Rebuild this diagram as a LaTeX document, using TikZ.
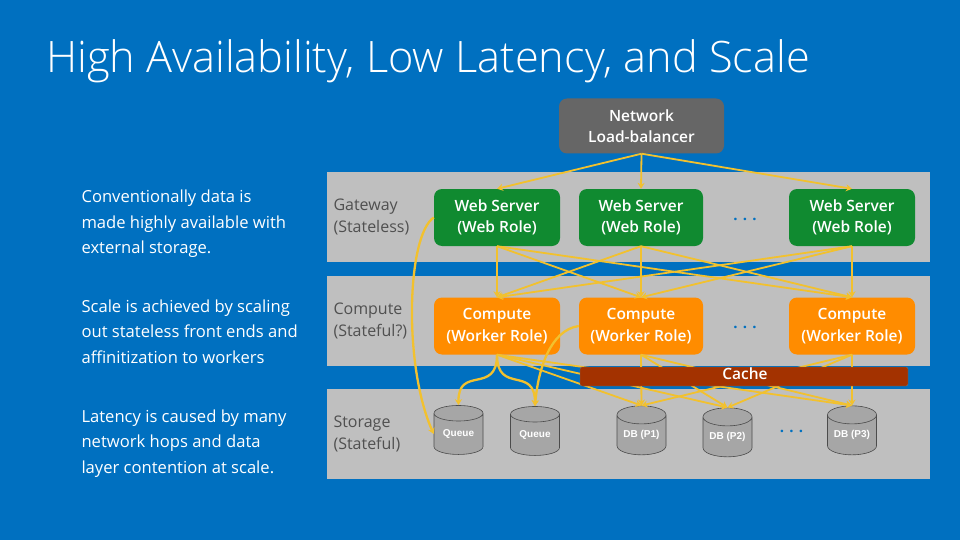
\documentclass[tikz,border=0pt]{standalone}
\usepackage{fontspec}
\setmainfont{Open Sans}
\newfontfamily\titlefont{Open Sans Light}
\newfontfamily\boxfont{Open Sans Semibold}
\newfontfamily\cylfont{Liberation Sans}
\usetikzlibrary{arrows.meta,shapes.geometric}
\definecolor{slideblue}{HTML}{0070C0}
\definecolor{bandgrey}{HTML}{BFBFBF}
\definecolor{netgrey}{HTML}{666666}
\definecolor{webgreen}{HTML}{108A30}
\definecolor{workorange}{HTML}{FF8C00}
\definecolor{cachered}{HTML}{A33200}
\definecolor{linkyellow}{HTML}{F2C12E}
\definecolor{labelgrey}{HTML}{505050}
\tikzstyle{band} = [fill=bandgrey,draw=none,minimum width=603pt,minimum height=90pt,inner sep=0pt,anchor=north west]
\tikzstyle{rolebox} = [rounded corners=8pt,minimum width=126pt,minimum height=57pt,inner sep=0pt,align=center,text=white,
    font=\boxfont\fontsize{15.5}{21.5}\selectfont]
\tikzstyle{webbox} = [rolebox,fill=webgreen]
\tikzstyle{workbox} = [rolebox,fill=workorange]
\tikzstyle{disk} = [cylinder,shape border rotate=90,shape aspect=0.5,draw=black!70,line width=0.6pt,fill=black!35,minimum width=49pt,
    minimum height=49pt,inner sep=0pt,text=white,font=\cylfont\bfseries\fontsize{10}{12}\selectfont]
\tikzstyle{note} = [anchor=west,align=left,text=white,font=\fontsize{16.6}{25.5}\selectfont]
\tikzstyle{tier} = [anchor=west,align=left,text=labelgrey,font=\fontsize{16}{21.5}\selectfont]
\tikzstyle{more} = [text=slideblue,font=\bfseries\fontsize{15}{18}\selectfont]
\tikzstyle{link} = [draw=linkyellow,line width=1.8pt,-{Stealth[length=6pt,width=7pt]}]
\tikzstyle{curvelink} = [link,line width=2.3pt]
\begin{document}
\begin{tikzpicture}[x=1pt,y=-1pt]
	\useasboundingbox[fill=slideblue] (0,0) rectangle (960,540);
	
	\node(title) at (46,61) [anchor=west,text=white,inner sep=0pt,font=\titlefont\fontsize{43.3}{48}\selectfont] {High Availability, Low Latency, and Scale};
	
	\node(band1) at (327,172) [band] {};
	\node(band2) at (327,276) [band] {};
	\node(band3) at (327,389) [band] {};
	
	\node(note1) at (78,224) [note] {Conventionally data is\\made highly available with\\external storage.};
	\node(note2) at (78,331.5) [note] {Scale is achieved by scaling\\out stateless front ends and\\affinitization to workers};
	\node(note3) at (78,443.5) [note] {Latency is caused by many\\network hops and data\\layer contention at scale.};
	
	\node(tier1) at (330,217) [tier] {Gateway\\(Stateless)};
	\node(tier2) at (330,321) [tier] {Compute\\(Stateful?)};
	\node(tier3) at (330,434) [tier] {Storage\\(Stateful)};
	
	\node(net) at (641.5,126) [rolebox,fill=netgrey,minimum width=165pt,minimum height=55pt] {Network\\Load-balancer};
	
	\node(web1) at (497,217.5) [webbox] {Web Server\\(Web Role)};
	\node(web2) at (641,217.5) [webbox,minimum width=124pt] {Web Server\\(Web Role)};
	\node(web3) at (852,217.5) [webbox] {Web Server\\(Web Role)};
	
	\node(comp1) at (497,326) [workbox] {Compute\\(Worker Role)};
	\node(comp2) at (641,326) [workbox,minimum width=124pt] {Compute\\(Worker Role)};
	\node(comp3) at (852,326) [workbox] {Compute\\(Worker Role)};
	
	\node(queue1) at (458.5,434) [disk] {Queue};
	\node(queue2) at (535,435) [disk] {Queue};
	\node(db1) at (641.5,435) [disk] {DB (P1)};
	\node(db2) at (727.5,437) [disk] {DB (P2)};
	\node(db3) at (852,435) [disk] {DB (P3)};
	
	\node(more1) at (745,219) [more] {. . .};
	\node(more2) at (745,327) [more] {. . .};
	\node(more3) at (791.5,431) [more] {. . .};
	
	\foreach \w in {web1,web2,web3}
		\draw[link] (net.south) -- (\w.north);
	\foreach \w in {web1,web2,web3}
		\foreach \c in {comp1,comp2,comp3}
			\draw[link] (\w.south) -- (\c.north);
	\foreach \c in {comp1,comp2,comp3}
		\foreach \d in {db1,db2,db3}
			\draw[link] (\c.south) -- (\d.north);
	
	\draw[curvelink] (web1.west) .. controls (407,235) and (403,365) .. (queue1.west);
	\draw[curvelink] (comp1.south) .. controls (497,395) and (458,365) .. (queue1.north);
	\draw[curvelink] (comp1.south) .. controls (497,395) and (535,365) .. (queue2.north);
	\draw[curvelink] (comp2.west) .. controls (550,330) and (538,370) .. (queue2.north);
	
	\node(cache) at (744,376.5) [draw=black!55,fill=cachered,rounded corners=2pt,minimum width=328pt,minimum height=19pt,inner sep=0pt] {};
	\node(cachetext) at (745,373.5) [text=white,inner sep=0pt,font=\boxfont\fontsize{15.5}{18}\selectfont] {Cache};
\end{tikzpicture}
\end{document}
